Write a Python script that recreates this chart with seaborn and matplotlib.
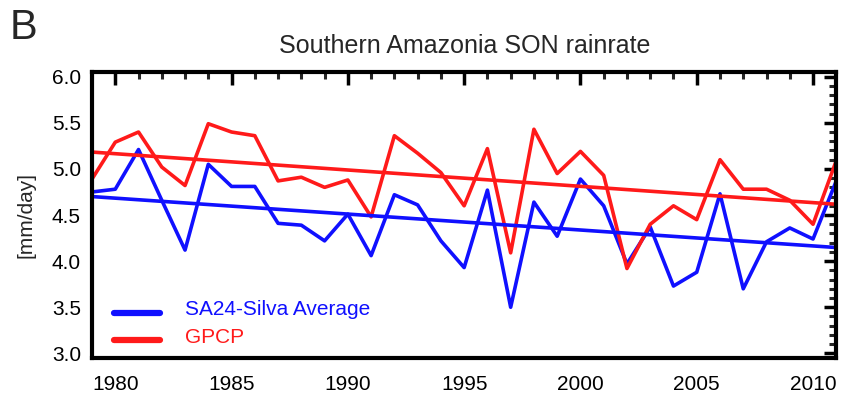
import numpy as np
import pandas as pd
import seaborn as sns
import matplotlib
matplotlib.use("Agg")
import matplotlib.pyplot as plt
from matplotlib.ticker import MultipleLocator

years = list(range(1979, 2012))
sa24 = [4.75, 4.78, 5.21, 4.66, 4.12, 5.05, 4.81, 4.81, 4.41, 4.39, 4.22,
        4.51, 4.06, 4.72, 4.61, 4.22, 3.93, 4.77, 3.50, 4.64, 4.27, 4.89,
        4.60, 3.97, 4.37, 3.73, 3.88, 4.73, 3.70, 4.21, 4.36, 4.24, 4.87]
gpcp = [4.89, 5.29, 5.40, 5.02, 4.82, 5.49, 5.40, 5.36, 4.87, 4.91, 4.80,
        4.88, 4.48, 5.36, 5.17, 4.96, 4.60, 5.22, 4.09, 5.43, 4.95, 5.19,
        4.93, 3.92, 4.40, 4.60, 4.45, 5.10, 4.78, 4.78, 4.66, 4.40, 5.09]
series_names = ["SA24-Silva Average", "GPCP"]
colors = ["#1010ff", "#ff1a1a"]
x_ticks = [1980, 1985, 1990, 1995, 2000, 2005, 2010]
y_ticks = [3.0, 3.5, 4.0, 4.5, 5.0, 5.5, 6.0]

sns.set_theme(style="white")
fam = ["Liberation Sans Narrow", "Liberation Sans", "DejaVu Sans"]
plt.rcParams["font.family"] = fam

df = pd.DataFrame({"year": years * 2,
                   "rain": sa24 + gpcp,
                   "series": [series_names[0]] * len(years) + [series_names[1]] * len(years)})

fig = plt.figure(figsize=(8.41, 3.96), dpi=100)
ax = fig.add_axes([0.1094, 0.096, 0.885, 0.722])

sns.lineplot(data=df, x="year", y="rain", hue="series", palette=colors,
             linewidth=2.6, ax=ax, legend=False)
for name, c in zip(series_names, colors):
    sub = df[df.series == name]
    sns.regplot(data=sub, x="year", y="rain", scatter=False, ci=None,
                color=c, line_kws={"linewidth": 2.6}, ax=ax, truncate=True)

ax.set_xlim(1979, 2011)
ax.set_ylim(2.95, 6.05)
ax.set_xticks(x_ticks)
ax.set_yticks(y_ticks)
ax.set_yticklabels([f"{v:.1f}" for v in y_ticks])
ax.xaxis.set_minor_locator(MultipleLocator(1))
ax.yaxis.set_minor_locator(MultipleLocator(0.1))
ax.tick_params(which="major", direction="in", length=9, width=2.5,
               top=True, right=True, labelsize=15, colors="black")
ax.tick_params(axis="x", which="major", pad=12)
ax.tick_params(axis="y", which="major", pad=8)
ax.tick_params(which="minor", direction="in", length=5, width=2.2,
               top=True, right=True)
for s in ax.spines.values():
    s.set_linewidth(3)
    s.set_color("black")
ax.set_xlabel("")
ax.set_ylabel("[mm/day]", fontsize=15, labelpad=12)

# legend
for i, (name, c) in enumerate(zip(series_names, colors)):
    yy = 0.158 - i * 0.0965
    ax.plot([0.03, 0.092], [yy, yy], transform=ax.transAxes, color=c, linewidth=4.5)
    ax.text(0.125, yy + 0.01, name, transform=ax.transAxes, color=c, fontsize=15,
            va="center", ha="left")

fig.text(0.553, 0.885, "Southern Amazonia SON rainrate", ha="center",
         va="center", fontsize=18)
fig.text(0.012, 0.93, "B", ha="left", va="center", fontsize=30)

fig.savefig("out.png", dpi=100)
